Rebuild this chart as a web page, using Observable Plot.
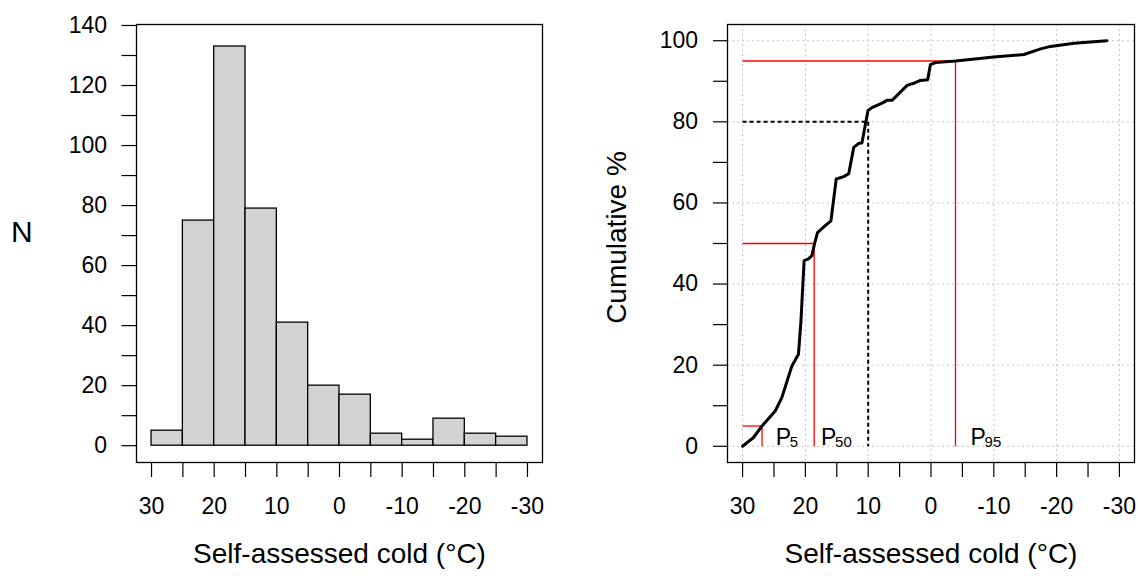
<!DOCTYPE html>
<html><head><meta charset="utf-8">
<script src="https://cdn.jsdelivr.net/npm/d3@7"></script>
<script src="https://cdn.jsdelivr.net/npm/@observablehq/plot@0.6"></script>
<style>
body{margin:0;background:#fff;}
#wrap{position:relative;width:1138px;height:576px;overflow:hidden;background:#fff;}
#left,#right{position:absolute;top:0;}
#left{left:0;} #right{left:570px;}
svg{overflow:visible}
</style></head><body><div id="wrap"><div id="left"></div><div id="right"></div></div>
<script>
// ---- data ----
const binEdges = [30, 25, 20, 15, 10, 5, 0, -5, -10, -15, -20, -25, -30];
const binCounts = [5, 75, 133, 79, 41, 20, 17, 4, 2, 9, 4, 3];

const cumTemp = [30, 28.3, 26.9, 24.8, 23.75, 22.15, 21.1, 20.7, 20.4, 20.2, 19.5, 18.96, 18.55, 18.07, 16.84, 15.93, 15.09, 13.9, 13.1, 12.3, 11.5, 11.0, 10.03, 9.4, 7.8, 7.0, 6.2, 3.8, 2.76, 1.7, 0.53, 0.1, -0.7, -3.9, -10.0, -14.8, -17.45, -19.04, -22.8, -28.0];
const cumPct  = [0, 2.1, 5.0, 8.7, 12.0, 19.8, 22.7, 31, 40, 45.8, 46.2, 47.0, 49.9, 52.7, 54.4, 55.6, 65.9, 66.5, 67.2, 73.7, 74.7, 74.8, 82.8, 83.5, 84.6, 85.3, 85.3, 89.0, 89.5, 90.2, 90.4, 94.1, 94.6, 95.0, 96.0, 96.6, 98.0, 98.6, 99.4, 100];

const pctLevels = [5, 50, 95];
const pctTemps = [26.9, 18.6, -3.9];
const pctSubs = ["5", "50", "95"];
const pctLabelX = [24.7, 17.5, -6.3];
const refLevel = 80;
const refTemp = 10;

const xTicks = d3.range(30, -31, -5);
const xGrid = d3.range(30, -31, -10);
const histYTicks = d3.range(0, 141, 10);
const cumYTicks = d3.range(0, 101, 10);
const cumYGrid = d3.range(0, 101, 20);
const xTitle = "Self-assessed cold (°C)";
const histYTitle = "N";
const cumYTitle = "Cumulative %";

// ---- derived tables ----
const hist = binCounts.map((c, i) => ({x1: binEdges[i], x2: binEdges[i + 1], n: c}));
const cum = cumTemp.map((t, i) => ({t, p: cumPct[i]}));
const xMin = cumTemp[0];
const pctSegs = [];
pctLevels.forEach((lv, i) => {
  pctSegs.push({x1: xMin, y1: lv, x2: pctTemps[i], y2: lv});
  pctSegs.push({x1: pctTemps[i], y1: lv, x2: pctTemps[i], y2: 0});
});
const refSegs = [
  {x1: xMin, y1: refLevel, x2: refTemp, y2: refLevel},
  {x1: refTemp, y1: refLevel, x2: refTemp, y2: 0}
];
const pLabels = pctLevels.map((lv, i) => ({x: pctLabelX[i], sub: pctSubs[i]}));

const FONT = "'Liberation Sans', Arial, Helvetica, sans-serif";
const baseStyle = {fontFamily: FONT, fontSize: "23px", color: "black", background: "transparent", overflow: "visible"};
const fmtX = d => (d % 10 === 0 ? String(d) : "");

const left = Plot.plot({
  width: 570, height: 576,
  marginLeft: 136, marginRight: 28, marginTop: 24, marginBottom: 114,
  x: {domain: [32.4, -32.4], label: null},
  y: {domain: [-5.6, 140.33], label: null},
  style: baseStyle,
  marks: [
    Plot.rectY(hist, {x1: "x1", x2: "x2", y: "n", fill: "#d3d3d3", stroke: "black", strokeWidth: 1.3}),
    Plot.frame({stroke: "black", strokeWidth: 1.3}),
    Plot.axisX({ticks: xTicks, tickFormat: fmtX, tickSize: 15, tickPadding: 20, strokeWidth: 1.2, label: null}),
    Plot.axisY({ticks: histYTicks, tickFormat: d => (d % 20 === 0 ? String(d) : ""), tickSize: 14.5, tickPadding: 15, strokeWidth: 1.2, label: null}),
    Plot.text([xTitle], {text: d => d, frameAnchor: "bottom", dy: 100, fontSize: 28, textAnchor: "middle"}),
    Plot.text([histYTitle], {text: d => d, frameAnchor: "left", dx: -114.6, dy: -11, fontSize: 30, textAnchor: "middle"})
  ]
});
document.getElementById("left").appendChild(left);

const right = Plot.plot({
  width: 568, height: 576,
  marginLeft: 157, marginRight: 4, marginTop: 24, marginBottom: 114,
  x: {domain: [32.4, -32.4], label: null},
  y: {domain: [-4, 104], label: null},
  style: baseStyle,
  marks: [
    Plot.gridX({ticks: xGrid, stroke: "#c4c4c4", strokeOpacity: 1, strokeDasharray: "2,3", strokeWidth: 1}),
    Plot.gridY({ticks: cumYGrid, stroke: "#c4c4c4", strokeOpacity: 1, strokeDasharray: "2,3", strokeWidth: 1}),
    Plot.frame({stroke: "black", strokeWidth: 1.3}),
    Plot.link(pctSegs, {x1: "x1", y1: "y1", x2: "x2", y2: "y2", stroke: "red", strokeWidth: 1.3}),
    Plot.link(refSegs, {x1: "x1", y1: "y1", x2: "x2", y2: "y2", stroke: "black", strokeWidth: 2, strokeDasharray: "4,3"}),
    Plot.line(cum, {x: "t", y: "p", stroke: "black", strokeWidth: 3, strokeLinejoin: "round"}),
    Plot.text(pLabels, {x: "x", y: 0, text: () => "P", textAnchor: "start", fontSize: 23, dy: -8.7}),
    Plot.text(pLabels, {x: "x", y: 0, text: "sub", textAnchor: "start", fontSize: 15, dx: 14, dy: -4.4}),
    Plot.axisX({ticks: xTicks, tickFormat: fmtX, tickSize: 15, tickPadding: 20, strokeWidth: 1.2, label: null}),
    Plot.axisY({ticks: cumYTicks, tickFormat: d => (d % 20 === 0 ? String(d) : ""), tickSize: 14, tickPadding: 15.5, strokeWidth: 1.2, label: null}),
    Plot.text([xTitle], {text: d => d, frameAnchor: "bottom", dy: 100, fontSize: 28, textAnchor: "middle"}),
    Plot.text([cumYTitle], {text: d => d, frameAnchor: "left", dx: -110, dy: -6, rotate: -90, fontSize: 28, textAnchor: "middle"})
  ]
});
document.getElementById("right").appendChild(right);
</script>
</body></html>
